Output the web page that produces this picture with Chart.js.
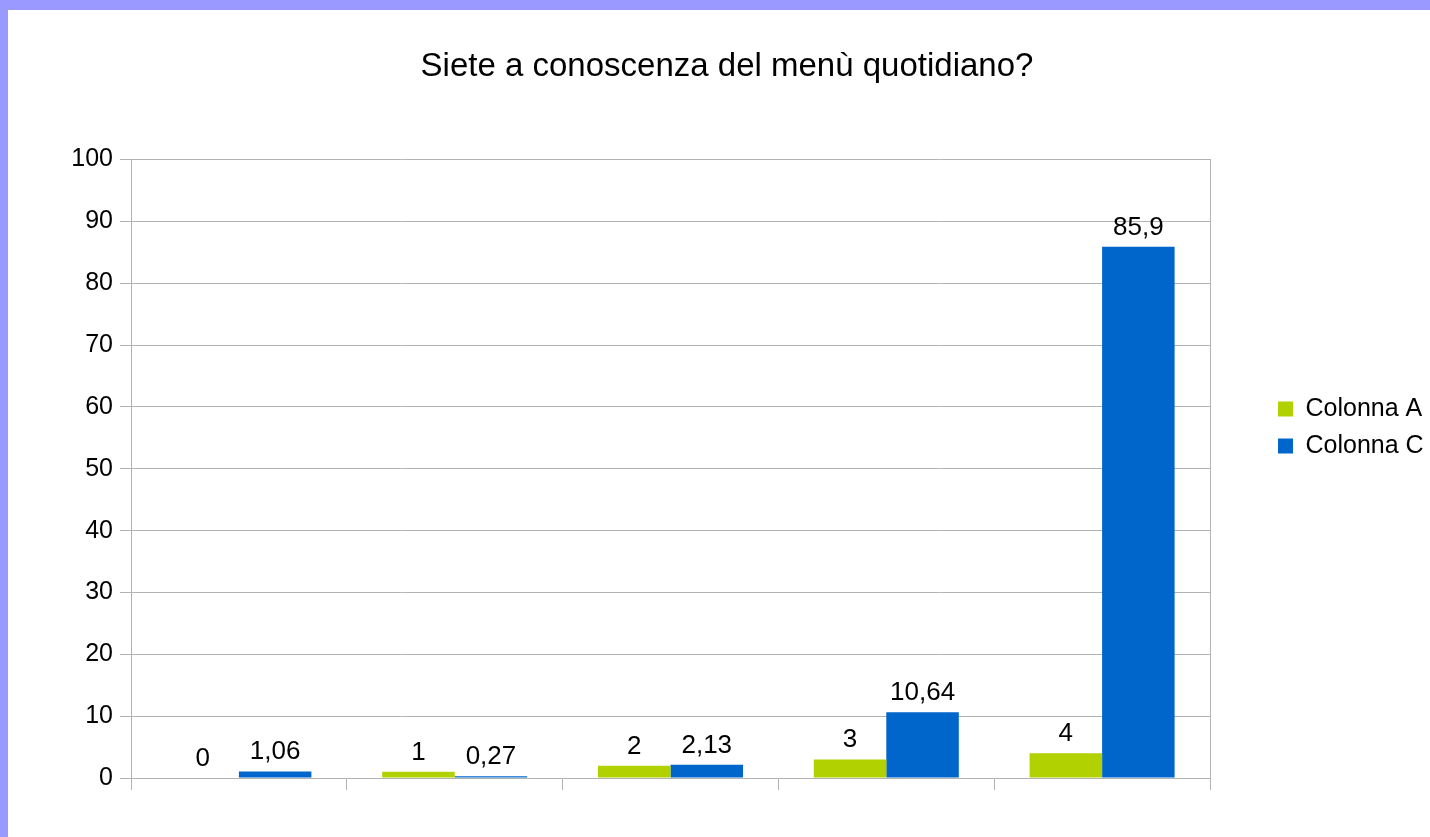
<!DOCTYPE html>
<html>
<head>
<meta charset="utf-8">
<script src="https://cdn.jsdelivr.net/npm/chart.js@4/dist/chart.umd.min.js"></script>
<style>
  html, body { margin: 0; padding: 0; background: #9999ff; width: 1430px; height: 837px; overflow: hidden; }
  #wrap { position: absolute; left: 8px; top: 10px; width: 1422px; height: 827px; background: #ffffff; }
</style>
</head>
<body>
<div id="wrap"><canvas id="c" width="1422" height="827"></canvas></div>
<script>
const chartTitle = 'Siete a conoscenza del menù quotidiano?';
const categories = ['0', '1', '2', '3', '4'];
const seriesNames = ['Colonna A', 'Colonna C'];
const colonnaA = [0, 1, 2, 3, 4];
const colonnaC = [1.06, 0.27, 2.13, 10.64, 85.9];
const yTicks = [0, 10, 20, 30, 40, 50, 60, 70, 80, 90, 100];

const GRID = '#b3b3b3';
const FONT = "'Liberation Sans', Arial, sans-serif";

const valueLabels = {
  id: 'valueLabels',
  afterDatasetsDraw(chart) {
    const ctx = chart.ctx;
    ctx.save();
    ctx.font = '26px ' + FONT;
    ctx.fillStyle = '#000000';
    ctx.textAlign = 'center';
    ctx.textBaseline = 'alphabetic';
    chart.data.datasets.forEach((ds, i) => {
      const meta = chart.getDatasetMeta(i);
      meta.data.forEach((bar, j) => {
        const txt = String(ds.data[j]).replace('.', ',');
        ctx.fillText(txt, bar.x, bar.y - 12);
      });
    });
    ctx.restore();
  }
};

new Chart(document.getElementById('c'), {
  type: 'bar',
  data: {
    labels: categories,
    datasets: [
      { label: seriesNames[0], data: colonnaA, backgroundColor: '#b2d100', borderWidth: 0, categoryPercentage: 0.672, barPercentage: 1.0 },
      { label: seriesNames[1], data: colonnaC, backgroundColor: '#0066cc', borderWidth: 0, categoryPercentage: 0.672, barPercentage: 1.0 }
    ]
  },
  options: {
    responsive: false,
    animation: false,
    events: [],
    layout: { padding: { left: 16, right: 0, top: 8, bottom: 0 } },
    plugins: {
      title: {
        display: true,
        text: chartTitle,
        color: '#000000',
        font: { family: FONT, size: 33, weight: 'normal', lineHeight: 1.2 },
        padding: { top: 29, bottom: 73 }
      },
      legend: {
        display: true,
        position: 'right',
        maxWidth: 164,
        labels: {
          boxWidth: 15,
          boxHeight: 15,
          padding: 12,
          color: '#000000',
          font: { family: FONT, size: 25 }
        }
      },
      tooltip: { enabled: false }
    },
    scales: {
      x: {
        offset: true,
        grid: { offset: true, drawOnChartArea: false, drawTicks: true, tickLength: 12, color: GRID, lineWidth: 1 },
        border: { display: true, color: GRID },
        ticks: { display: false },
        afterFit(scale) { scale.height = 59; }
      },
      y: {
        min: 0,
        max: 100,
        afterBuildTicks(scale) { scale.ticks = yTicks.map(v => ({ value: v })); },
        grid: { color: GRID, lineWidth: 1, tickLength: 11, drawTicks: true },
        border: { display: true, color: GRID },
        ticks: { color: '#000000', padding: 7, font: { family: FONT, size: 25 } },
        afterFit(scale) { scale.width = 107; }
      },
      y2: {
        position: 'right',
        display: true,
        min: 0,
        max: 100,
        grid: { drawOnChartArea: false, drawTicks: false },
        border: { display: true, color: GRID },
        ticks: { display: false },
        afterFit(scale) { scale.width = 56; }
      }
    }
  },
  plugins: [valueLabels]
});
</script>
</body>
</html>
